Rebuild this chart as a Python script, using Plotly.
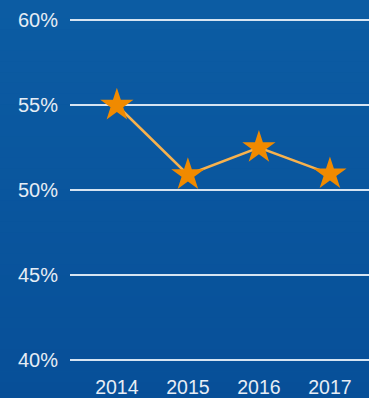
import plotly.graph_objects as go

years = [2014, 2015, 2016, 2017]
values = [55.0, 50.9, 52.5, 50.95]
y_ticks = [40, 45, 50, 55, 60]

fig = go.Figure()
fig.add_trace(go.Scatter(
    x=years, y=values, mode="lines+markers",
    line=dict(color="#f7b24e", width=2.5),
    marker=dict(symbol="star", size=25, color="#f08a00", line=dict(width=0)),
    hoverinfo="skip",
))

# subtle vertical background gradient
top = (12, 93, 164)
bot = (7, 79, 152)
n = 40
shapes = []
for i in range(n):
    t = i / (n - 1)
    c = tuple(round(top[k] + (bot[k] - top[k]) * t) for k in range(3))
    y1 = 1 - i / n
    y0 = 1 - (i + 1) / n
    shapes.append(dict(type="rect", xref="paper", yref="paper",
                       x0=-1, x1=2, y0=y0 * 1.2 - 0.1, y1=y1 * 1.2 - 0.1 + 0.001,
                       fillcolor=f"rgb{c}", line=dict(width=0), layer="below"))

fig.update_layout(
    width=369, height=398,
    margin=dict(l=70, r=0, t=11.5, b=29.5),
    paper_bgcolor="#0a56a0",
    plot_bgcolor="rgba(0,0,0,0)",
    font=dict(family="Liberation Sans", size=20, color="#e6edf5"),
    showlegend=False,
    shapes=shapes,
    xaxis=dict(
        range=[2013.34, 2017.55],
        tickvals=years, ticktext=[str(y) for y in years],
        tickfont=dict(size=19.5),
        showgrid=False, zeroline=False, showline=False,
        ticklabelstandoff=5,
    ),
    yaxis=dict(
        range=[39.5, 60.5],
        tickvals=y_ticks, ticktext=[f"{v}%" for v in y_ticks],
        showgrid=True, gridcolor="#d6e4f2", gridwidth=2,
        zeroline=False, showline=False,
        ticklabelstandoff=11,
    ),
)

fig.write_html("out.html")
